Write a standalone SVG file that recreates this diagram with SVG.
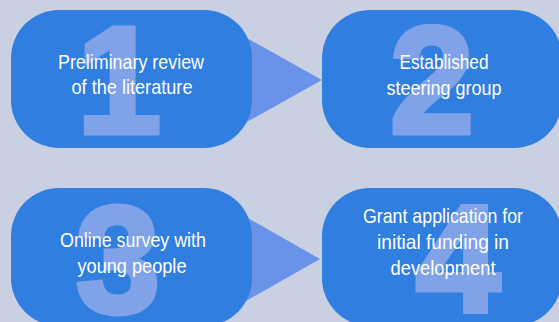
<svg xmlns="http://www.w3.org/2000/svg" width="559" height="322" viewBox="0 0 559 322">
  <defs>
    <style>
      .bg { fill: #c8d0e2; }
      .pill { fill: #2f7ee0; }
      .arrow { fill: #6a92e8; }
      .num { fill: #80a2e8; stroke: #80a2e8; stroke-width: 5; stroke-linejoin: miter; font-family: "Liberation Sans", Arial, sans-serif; font-weight: bold; font-size: 152px; text-anchor: middle; }
      .label { fill: #ffffff; font-family: "Liberation Sans Narrow", "Liberation Sans", Arial, sans-serif; font-size: 21px; text-anchor: middle; }
    </style>
  </defs>

  <rect class="bg" x="0" y="0" width="559" height="322"/>

  <!-- connectors: wide triangles pointing from each left step to the right step -->
  <g id="connectors">
    <polygon class="arrow" points="200,12 322,80 200,148"/>
    <polygon class="arrow" points="200,191 320,259 200,327"/>
  </g>

  <g id="step1">
    <rect class="pill" x="11" y="10" width="241" height="138" rx="48" ry="48"/>
    <text class="num" x="119" y="133">1</text>
    <text class="label" x="131" y="69" textLength="146" lengthAdjust="spacingAndGlyphs">Preliminary review</text>
    <text class="label" x="132" y="94" textLength="121" lengthAdjust="spacingAndGlyphs">of the literature</text>
  </g>

  <g id="step2">
    <rect class="pill" x="322" y="10" width="240" height="138" rx="48" ry="48"/>
    <text class="num" x="432" y="133">2</text>
    <text class="label" x="444" y="69" textLength="89" lengthAdjust="spacingAndGlyphs">Established</text>
    <text class="label" x="444" y="95" textLength="115" lengthAdjust="spacingAndGlyphs">steering group</text>
  </g>

  <g id="step3">
    <rect class="pill" x="11" y="188" width="241" height="138" rx="48" ry="48"/>
    <text class="num" x="118" y="312">3</text>
    <text class="label" x="133" y="247" textLength="146" lengthAdjust="spacingAndGlyphs">Online survey with</text>
    <text class="label" x="132" y="273" textLength="109" lengthAdjust="spacingAndGlyphs">young people</text>
  </g>

  <g id="step4">
    <rect class="pill" x="322" y="188" width="240" height="138" rx="48" ry="48"/>
    <text class="num" x="458" y="311">4</text>
    <text class="label" x="443" y="223" textLength="160" lengthAdjust="spacingAndGlyphs">Grant application for</text>
    <text class="label" x="443" y="249" textLength="132" lengthAdjust="spacingAndGlyphs">initial funding in</text>
    <text class="label" x="443" y="275" textLength="105" lengthAdjust="spacingAndGlyphs">development</text>
  </g>
</svg>
